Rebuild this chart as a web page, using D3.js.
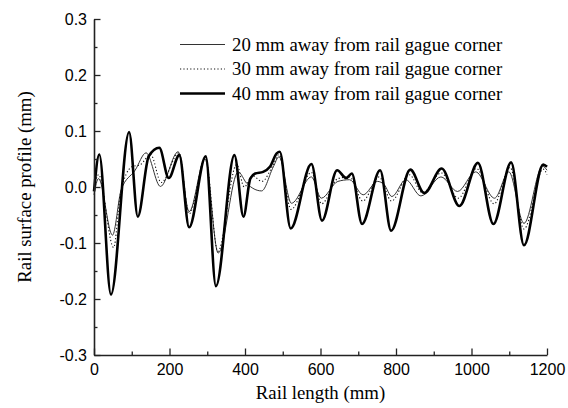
<!DOCTYPE html>
<html>
<head>
<meta charset="utf-8">
<script src="https://cdn.jsdelivr.net/npm/d3@7"></script>
<style>
  html, body { margin: 0; padding: 0; background: #fff; }
  svg { display: block; }
</style>
</head>
<body>
<svg id="chart" width="568" height="408"></svg>
<script>
// Rail surface profile measured along the rail at three offsets from the gauge corner
const seriesNames = [
  "20 mm away from rail gague corner",
  "30 mm away from rail gague corner",
  "40 mm away from rail gague corner"
];

// Rail length positions (mm) and profile values (mm) for each offset
const len20 = [0, 12, 49, 72, 109, 138, 176, 223, 252, 294, 329, 382, 404, 444, 475, 490, 523, 576, 602, 646, 677, 713, 751, 769, 789, 826, 866, 919, 963, 1011, 1061, 1099, 1139, 1188, 1200];
const prof20 = [-0.014, 0.015, -0.086, -0.005, 0.030, 0.061, 0.001, 0.063, -0.044, 0.050, -0.118, 0.027, 0.007, -0.007, 0.036, 0.054, -0.029, 0.018, -0.020, 0.010, 0.013, -0.014, 0.010, 0.004, -0.017, 0.013, -0.016, 0.018, -0.008, 0.027, -0.020, 0.027, -0.065, 0.037, 0.030];

const len30 = [0, 12, 52, 70, 100, 123, 150, 178, 225, 252, 295, 328, 378, 398, 420, 445, 475, 490, 522, 576, 603, 646, 677, 712, 755, 788, 835, 870, 920, 965, 1013, 1060, 1102, 1139, 1190, 1200];
const prof30 = [-0.003, 0.022, -0.108, -0.012, 0.036, 0.040, 0.058, 0.008, 0.061, -0.048, 0.052, -0.115, 0.040, 0.000, 0.020, 0.010, 0.040, 0.058, -0.040, 0.026, -0.030, 0.015, 0.018, -0.025, 0.018, -0.025, 0.022, -0.010, 0.025, -0.020, 0.033, -0.030, 0.035, -0.075, 0.032, 0.022];

const len40 = [0, 14, 45, 93, 116, 145, 173, 198, 226, 252, 296, 323, 372, 396, 414, 427, 448, 466, 484, 492, 521, 576, 604, 644, 668, 683, 710, 758, 787, 838, 875, 921, 968, 1017, 1058, 1105, 1139, 1190, 1200];
const prof40 = [-0.008, 0.058, -0.192, 0.098, -0.053, 0.055, 0.070, 0.016, 0.057, -0.072, 0.055, -0.177, 0.057, -0.053, 0.015, 0.024, 0.027, 0.036, 0.060, 0.063, -0.074, 0.041, -0.060, 0.030, 0.016, 0.024, -0.066, 0.030, -0.078, 0.031, -0.011, 0.033, -0.034, 0.043, -0.066, 0.044, -0.104, 0.040, 0.036];

const xTicks = [0, 200, 400, 600, 800, 1000, 1200];
const xMinorTicks = [100, 300, 500, 700, 900, 1100];
const yTicks = [-0.3, -0.2, -0.1, 0.0, 0.1, 0.2, 0.3];
const yMinorTicks = [-0.25, -0.15, -0.05, 0.05, 0.15, 0.25];

const svg = d3.select("#chart");
const plotLeft = 94, plotRight = 547, plotTop = 19, plotBottom = 355;

const x = d3.scaleLinear().domain([0, 1200]).range([plotLeft, plotRight]);
const y = d3.scaleLinear().domain([-0.3, 0.3]).range([plotBottom, plotTop]);

const tickFont = "'Liberation Sans', Arial, sans-serif";
const serif = "'Liberation Serif', 'Times New Roman', serif";
const serifSize = 18.8;

// Curves
const line = d3.line()
  .x(d => x(d[0]))
  .y(d => y(d[1]))
  .curve(d3.curveMonotoneX);

const styles = [
  { w: 1, dash: null, color: "#333" },
  { w: 1.1, dash: "1.2,2.2", color: "#111" },
  { w: 2.6, dash: null, color: "#000" }
];

const series = [
  d3.zip(len20, prof20),
  d3.zip(len30, prof30),
  d3.zip(len40, prof40)
];

const plot = svg.append("g");
series.forEach((s, i) => {
  plot.append("path")
    .datum(s)
    .attr("fill", "none")
    .attr("stroke", styles[i].color)
    .attr("stroke-width", styles[i].w)
    .attr("stroke-dasharray", styles[i].dash)
    .attr("stroke-linejoin", "round")
    .attr("d", line);
});

// Tick labels use a plain hyphen for the negative sign
const yFmt = d => d.toFixed(1).replace("\u2212", "-");

// Axes with inward ticks
svg.append("g")
  .attr("transform", `translate(0,${plotBottom})`)
  .call(d3.axisBottom(x).tickValues(xTicks).tickSize(-6.5).tickSizeOuter(0).tickPadding(9)
    .tickFormat(d => String(d)));
svg.append("g")
  .attr("transform", `translate(0,${plotBottom})`)
  .call(d3.axisBottom(x).tickValues(xMinorTicks).tickSize(-3.5).tickSizeOuter(0).tickFormat(""))
  .call(g => g.select(".domain").remove());

svg.append("g")
  .attr("transform", `translate(${plotLeft},0)`)
  .call(d3.axisLeft(y).tickValues(yTicks).tickSize(-6.5).tickSizeOuter(0).tickPadding(7)
    .tickFormat(yFmt));
svg.append("g")
  .attr("transform", `translate(${plotLeft},0)`)
  .call(d3.axisLeft(y).tickValues(yMinorTicks).tickSize(-3.5).tickSizeOuter(0).tickFormat(""))
  .call(g => g.select(".domain").remove());

svg.selectAll(".domain").attr("stroke", "#222").attr("stroke-width", 1.6);
svg.selectAll(".tick line").attr("stroke", "#222").attr("stroke-width", 1.3);
svg.selectAll(".tick text")
  .attr("font-family", tickFont)
  .attr("font-size", 16)
  .attr("fill", "#000");

// Axis titles
svg.append("text")
  .attr("x", (plotLeft + plotRight) / 2)
  .attr("y", 399)
  .attr("text-anchor", "middle")
  .attr("font-family", serif)
  .attr("font-size", serifSize)
  .text("Rail length (mm)");

svg.append("text")
  .attr("transform", `translate(31,${(plotTop + plotBottom) / 2}) rotate(-90)`)
  .attr("text-anchor", "middle")
  .attr("font-family", serif)
  .attr("font-size", serifSize)
  .text("Rail surface profile (mm)");

// Legend
const legendRows = [44.5, 69, 93.5];
const legend = svg.append("g");
seriesNames.forEach((name, i) => {
  legend.append("line")
    .attr("x1", 180).attr("x2", 225)
    .attr("y1", legendRows[i]).attr("y2", legendRows[i])
    .attr("stroke", styles[i].color)
    .attr("stroke-width", styles[i].w)
    .attr("stroke-dasharray", styles[i].dash);
  legend.append("text")
    .attr("x", 232)
    .attr("y", legendRows[i] + 6)
    .attr("font-family", serif)
    .attr("font-size", serifSize)
    .text(name);
});
</script>
</body>
</html>
